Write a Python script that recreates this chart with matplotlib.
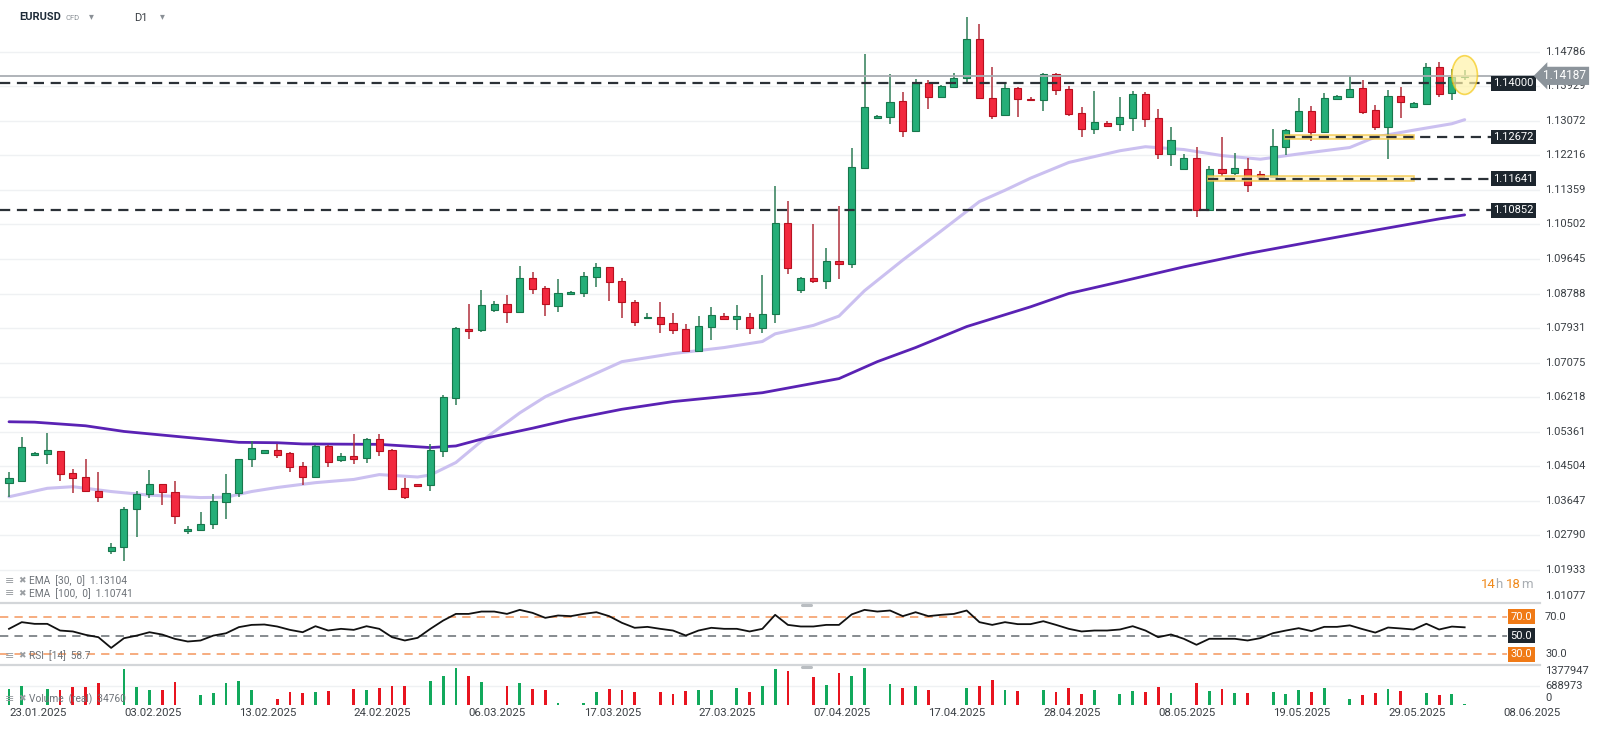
import numpy as np
import matplotlib
matplotlib.use('Agg')
import matplotlib.pyplot as plt
from matplotlib.patches import Rectangle, Ellipse
from matplotlib.lines import Line2D

plt.rcParams['font.family'] = ['Roboto', 'DejaVu Sans']

# ---- data (EURUSD D1, one bar per trading day incl. sundays) ----
opens = [1.04083, 1.04149, 1.04777, 1.04819, 1.04893, 1.04331, 1.04248, 1.03893, 1.02404, 1.02511,
         1.03438, 1.03818, 1.04066, 1.03860, 1.02900, 1.02925, 1.03066, 1.03628, 1.03835, 1.04678,
         1.04844, 1.04901, 1.04844, 1.04510, 1.04245, 1.05006, 1.04659, 1.04766, 1.04700, 1.05172,
         1.04907, 1.03973, 1.04055, 1.04039, 1.04882, 1.06205, 1.07909, 1.07884, 1.08380, 1.08529,
         1.08339, 1.09183, 1.08918, 1.08488, 1.08777, 1.08807, 1.09204, 1.09436, 1.09097, 1.08584,
         1.08171, 1.08212, 1.08047, 1.07908, 1.07370, 1.07964, 1.08237, 1.08146, 1.08212, 1.07947,
         1.08270, 1.10544, 1.08874, 1.09163, 1.09105, 1.09593, 1.09510, 1.11908, 1.13132, 1.13174,
         1.13571, 1.12826, 1.14001, 1.13670, 1.13918, 1.14125, 1.15092, 1.13628, 1.13215, 1.13877,
         1.13620, 1.13579, 1.14224, 1.13852, 1.13256, 1.12868, 1.13008, 1.12983, 1.13149, 1.13736,
         1.13149, 1.12248, 1.11876, 1.12140, 1.10858, 1.11876, 1.11768, 1.11876, 1.11743, 1.11686,
         1.12413, 1.12819, 1.13315, 1.12802, 1.13604, 1.13654, 1.13877, 1.13340, 1.12926, 1.13687,
         1.13406, 1.13480, 1.14415, 1.13753, 1.14170]
highs = [1.04372, 1.05224, 1.04860, 1.05340, 1.04893, 1.04438, 1.04678, 1.04356, 1.02594, 1.03488,
         1.03893, 1.04414, 1.04066, 1.04141, 1.03024, 1.03363, 1.03810, 1.04306, 1.04695, 1.05141,
         1.04910, 1.05059, 1.04860, 1.04609, 1.05031, 1.05031, 1.04824, 1.05296, 1.05197, 1.05296,
         1.04932, 1.04221, 1.04064, 1.05048, 1.06272, 1.07967, 1.08529, 1.08877, 1.08604, 1.08753,
         1.09480, 1.09331, 1.08976, 1.09141, 1.08852, 1.09312, 1.09535, 1.09436, 1.09163, 1.08625,
         1.08295, 1.08568, 1.08295, 1.08030, 1.08230, 1.08460, 1.08295, 1.08501, 1.08295, 1.09246,
         1.11462, 1.11082, 1.09204, 1.10503, 1.09907, 1.10966, 1.12405, 1.14720, 1.13215, 1.14224,
         1.13777, 1.14100, 1.14083, 1.13959, 1.14265, 1.15655, 1.15473, 1.14398, 1.13984, 1.13901,
         1.13670, 1.14265, 1.14249, 1.13934, 1.13405, 1.13810, 1.13066, 1.13653, 1.13810, 1.13777,
         1.13364, 1.12926, 1.12240, 1.12413, 1.11950, 1.12661, 1.12281, 1.12140, 1.11826, 1.12868,
         1.12868, 1.13629, 1.13447, 1.13770, 1.13712, 1.14191, 1.14084, 1.13464, 1.13836, 1.13902,
         1.13530, 1.14497, 1.14539, 1.14348, 1.14332]
lows = [1.03752, 1.04124, 1.04760, 1.04554, 1.04149, 1.03851, 1.03876, 1.03611, 1.02321, 1.02150,
        1.02743, 1.03711, 1.03545, 1.03074, 1.02817, 1.02908, 1.02941, 1.03190, 1.03752, 1.04480,
        1.04836, 1.04703, 1.04372, 1.04039, 1.04204, 1.04494, 1.04618, 1.04560, 1.04576, 1.04766,
        1.03915, 1.03683, 1.04005, 1.03898, 1.04742, 1.06024, 1.07661, 1.07843, 1.08339, 1.08066,
        1.08322, 1.08777, 1.08240, 1.08322, 1.08765, 1.08708, 1.08940, 1.08609, 1.08171, 1.07981,
        1.08162, 1.07823, 1.07798, 1.07345, 1.07345, 1.07633, 1.08130, 1.07881, 1.07798, 1.07815,
        1.08063, 1.09262, 1.08807, 1.09039, 1.08890, 1.09146, 1.09428, 1.11892, 1.13107, 1.12983,
        1.12661, 1.12820, 1.13356, 1.13628, 1.13901, 1.13984, 1.13604, 1.13107, 1.13198, 1.13174,
        1.13570, 1.13314, 1.13711, 1.13190, 1.12677, 1.12744, 1.12926, 1.12826, 1.12818, 1.12925,
        1.12124, 1.11950, 1.11876, 1.10677, 1.10858, 1.11710, 1.11727, 1.11313, 1.11669, 1.11669,
        1.12223, 1.12802, 1.12579, 1.12785, 1.13604, 1.13629, 1.13232, 1.12843, 1.12116, 1.13149,
        1.13398, 1.13464, 1.13654, 1.13587, 1.14084]
closes = [1.04207, 1.04976, 1.04844, 1.04901, 1.04314, 1.04207, 1.03893, 1.03735, 1.02511, 1.03446,
          1.03818, 1.04066, 1.03876, 1.03281, 1.02941, 1.03074, 1.03644, 1.03851, 1.04695, 1.04951,
          1.04901, 1.04794, 1.04496, 1.04245, 1.05006, 1.04601, 1.04766, 1.04684, 1.05172, 1.04882,
          1.03939, 1.03749, 1.04014, 1.04907, 1.06230, 1.07926, 1.07868, 1.08505, 1.08529, 1.08339,
          1.09183, 1.08893, 1.08529, 1.08794, 1.08835, 1.09229, 1.09436, 1.09080, 1.08568, 1.08088,
          1.08212, 1.08030, 1.07881, 1.07370, 1.07982, 1.08253, 1.08146, 1.08228, 1.07947, 1.08278,
          1.10544, 1.09411, 1.09180, 1.09105, 1.09601, 1.09510, 1.11933, 1.13422, 1.13190, 1.13546,
          1.12826, 1.14001, 1.13670, 1.13934, 1.14125, 1.15092, 1.13628, 1.13198, 1.13877, 1.13604,
          1.13579, 1.14224, 1.13835, 1.13240, 1.12868, 1.13050, 1.12950, 1.13174, 1.13736, 1.13107,
          1.12248, 1.12595, 1.12140, 1.10858, 1.11876, 1.11768, 1.11892, 1.11479, 1.11686, 1.12446,
          1.12843, 1.13315, 1.12802, 1.13646, 1.13687, 1.13852, 1.13282, 1.12910, 1.13687, 1.13546,
          1.13505, 1.14415, 1.13736, 1.14166, 1.14187]

volume = [560e3, 690e3, 0, 560e3, 535e3, 654e3, 631e3, 797e3, 0, 1273e3,
          631e3, 535e3, 535e3, 821e3, 0, 357e3, 416e3, 797e3, 857e3, 535e3,
          0, 202e3, 464e3, 440e3, 464e3, 500e3, 0, 560e3, 535e3, 607e3,
          690e3, 690e3, 0, 857e3, 1035e3, 1309e3, 1035e3, 833e3, 0, 690e3,
          797e3, 559e3, 524e3, 60e3, 0, 60e3, 464e3, 559e3, 524e3, 464e3,
          0, 464e3, 393e3, 500e3, 535e3, 535e3, 0, 595e3, 464e3, 666e3,
          1273e3, 1226e3, 0, 1012e3, 714e3, 1130e3, 1047e3, 1309e3, 0, 738e3,
          595e3, 666e3, 524e3, 0, 0, 595e3, 666e3, 892e3, 524e3, 488e3,
          0, 524e3, 464e3, 595e3, 393e3, 524e3, 0, 393e3, 488e3, 464e3,
          631e3, 428e3, 0, 797e3, 488e3, 559e3, 428e3, 428e3, 0, 464e3,
          393e3, 524e3, 464e3, 595e3, 0, 202e3, 357e3, 416e3, 559e3, 500e3,
          0, 416e3, 357e3, 393e3, 34760]

rsi = [57.1, 64.2, 62.4, 62.4, 55.3, 54.3, 50.7, 48.2, 36.8, 47.1,
       49.9, 53.5, 51.0, 46.4, 43.6, 44.7, 49.9, 52.4, 58.9, 61.3,
       61.7, 59.6, 56.0, 53.5, 59.9, 55.3, 57.1, 56.0, 59.9, 57.1,
       48.2, 44.7, 47.5, 57.1, 65.9, 73.0, 73.0, 75.5, 75.5, 73.0,
       77.3, 74.1, 68.8, 71.3, 70.6, 73.0, 74.8, 70.6, 63.5, 58.2,
       59.2, 57.1, 55.3, 50.0, 55.3, 58.2, 57.1, 57.1, 54.3, 57.1,
       72.0, 61.3, 59.6, 59.6, 61.3, 61.3, 72.5, 77.3, 75.5, 76.6,
       70.6, 74.8, 70.6, 72.0, 73.0, 76.6, 64.2, 61.3, 64.2, 62.1,
       62.1, 65.2, 61.3, 57.1, 54.3, 55.3, 55.3, 56.4, 59.9, 55.3,
       48.2, 51.1, 46.5, 40.1, 46.5, 46.5, 46.5, 44.7, 47.2, 52.5,
       55.3, 57.8, 54.7, 59.2, 59.2, 60.8, 56.8, 53.1, 58.5, 57.5,
       56.4, 62.5, 56.4, 59.5, 58.7]

# EMA lines at these bars
ema30_bars = [0, 3, 5, 8, 11, 15, 17, 19, 21, 24, 27, 29, 32, 33, 35, 37, 40, 42, 45, 48,
              52, 56, 59, 60, 63, 65, 67, 70, 73, 76, 78, 80, 83, 87, 89, 92, 95, 98, 101,
              105, 107, 110, 113, 114]
ema30_vals = [1.0375, 1.0396, 1.0400, 1.0388, 1.0379, 1.0373, 1.0374, 1.0388, 1.0398, 1.0410,
              1.0418, 1.0430, 1.0424, 1.0429, 1.0460, 1.0513, 1.0583, 1.0623, 1.0667, 1.0710,
              1.0730, 1.0745, 1.0760, 1.0779, 1.0800, 1.0823, 1.0886, 1.0962, 1.1034, 1.1107,
              1.1135, 1.1165, 1.1204, 1.1233, 1.1243, 1.1236, 1.1221, 1.1212, 1.1225, 1.1241,
              1.1267, 1.1284, 1.1300, 1.1310]
ema100_bars = [0, 2, 6, 9, 14, 18, 21, 23, 29, 33, 35, 37, 41, 44, 48, 52, 59, 65, 68, 71,
               75, 80, 83, 87, 92, 97, 103, 107, 112, 114]
ema100_vals = [1.0561, 1.0560, 1.0551, 1.0537, 1.0522, 1.0510, 1.0509, 1.0506, 1.0505, 1.0497,
               1.0501, 1.0518, 1.0545, 1.0567, 1.0592, 1.0611, 1.0633, 1.0668, 1.0710, 1.0745,
               1.0797, 1.0846, 1.0879, 1.0908, 1.0945, 1.0978, 1.1013, 1.1036, 1.1064, 1.1074]

price_ticks = [1.14786, 1.13929, 1.13072, 1.12216, 1.11359, 1.10502, 1.09645, 1.08788, 1.07931,
               1.07075, 1.06218, 1.05361, 1.04504, 1.03647, 1.02790, 1.01933]
bottom_tick = 1.01077
levels = [1.14000, 1.12672, 1.11641, 1.10852]
level_start = [None, 100, 94, None]     # bar where the line begins (None = left edge)
zone_end = 110
last_price = 1.14187
date_bars = [0, 9, 18, 27, 36, 45, 54, 63, 72, 81, 90, 99, 108, 117]
date_labels = ['23.01.2025', '03.02.2025', '13.02.2025', '24.02.2025', '06.03.2025', '17.03.2025',
               '27.03.2025', '07.04.2025', '17.04.2025', '28.04.2025', '08.05.2025', '19.05.2025',
               '29.05.2025', '08.06.2025']
vol_ticks = [1377947, 688973, 0]

# ---- layout (pixel based) ----
W, H = 1600, 729
PLOT_R = 1540
XL = (-0.705, 119.9)


def rect(x0, y0, x1, y1):
    return [x0 / W, 1 - y1 / H, (x1 - x0) / W, (y1 - y0) / H]


def fx(x):
    return x / W


def fy(y):
    return 1 - y / H


fig = plt.figure(figsize=(16, 7.29), dpi=100)
fig.patch.set_facecolor('white')
ax = fig.add_axes(rect(0, 0, PLOT_R, 603))
ax_rsi = fig.add_axes(rect(0, 603, PLOT_R, 665))
ax_vol = fig.add_axes(rect(0, 665, PLOT_R, 705))
for a in (ax, ax_rsi, ax_vol):
    a.set_xlim(*XL)
    for s in a.spines.values():
        s.set_visible(False)
    a.set_xticks([])
    a.set_yticks([])
    a.patch.set_alpha(0)


def to_axes_x(b):
    return (b - XL[0]) / (XL[1] - XL[0])


# ---- main price panel ----
ax.set_ylim(1.01116, 1.16068)
for t in price_ticks:
    ax.axhline(t, color='#eff1f3', lw=1.0, zorder=0)
    ax.text(1545 / PLOT_R, t, f'{t:.5f}', transform=ax.get_yaxis_transform(), va='center',
            ha='left', fontsize=8, color='#3a3f44', clip_on=False)
ax.text(1545 / PLOT_R, 0.004, f'{bottom_tick:.5f}', transform=ax.transAxes, va='bottom',
        ha='left', fontsize=8, color='#3a3f44', clip_on=False)

idx = np.arange(len(opens))
o = np.array(opens)
c = np.array(closes)
up = c >= o
body_lo = np.minimum(o, c)
body_h = np.maximum(np.abs(c - o), 0.00012)
fill = np.where(up, '#25ae78', '#f2293e')
edge = np.where(up, '#17774c', '#b8101f')
wick = np.where(up, '#2f7d57', '#b0303c')
ax.vlines(idx, lows, highs, colors=wick, lw=1.1, zorder=3)
ax.bar(idx, body_h, bottom=body_lo, width=0.56, color=fill, edgecolor=edge, linewidth=0.8, zorder=4)

ax.plot(ema30_bars, ema30_vals, color='#cbc0f0', lw=2.2, zorder=2, solid_capstyle='round')
ax.plot(ema100_bars, ema100_vals, color='#5a22b4', lw=2.0, zorder=2, solid_capstyle='round')

# current price line
ax.axhline(last_price, xmax=1537 / PLOT_R, color='#a9aeb3', lw=1.3, zorder=5)

# support / resistance levels
box_x = 1513.5 / PLOT_R
for lvl, st in zip(levels, level_start):
    x0 = 0 if st is None else to_axes_x(st - 0.1)
    ln = Line2D([x0, 1492 / PLOT_R], [lvl, lvl], transform=ax.get_yaxis_transform(),
                color='#2b3137', lw=1.6, zorder=6)
    ln.set_dashes((4.6, 3.0))
    ax.add_line(ln)
    if st is not None:
        ax.add_patch(Rectangle((st - 0.1, lvl - 0.0006), zone_end - st + 0.1, 0.0012,
                               facecolor='#fdf1c4', edgecolor='#f3c33a', lw=1.2, alpha=0.75, zorder=5))
    ax.text(box_x, lvl, f'{lvl:.5f}', transform=ax.get_yaxis_transform(), ha='center', va='center',
            fontsize=8, color='white', zorder=10, clip_on=False,
            bbox=dict(boxstyle='square,pad=0.22', fc='#1d262e', ec='none'))

ax.text(1565 / PLOT_R, last_price, f'{last_price:.5f}', transform=ax.get_yaxis_transform(),
        ha='center', va='center', fontsize=8.5, color='white', zorder=11, clip_on=False,
        bbox=dict(boxstyle='larrow,pad=0.22', fc='#8c949b', ec='none'))

# highlight of the current candle
ax.add_patch(Ellipse((idx[-1], closes[-1] + 0.0002), 2.0, 0.0096, facecolor='#fff3a8',
                     edgecolor='#f4c814', lw=1.2, alpha=0.7, zorder=7))

# ---- RSI panel ----
ax_rsi.set_ylim(18.6, 84.6)
ax_rsi.plot(idx, rsi, color='#111111', lw=1.3, zorder=4)
for lv, col, bcol in [(70, '#f6a675', '#f07a16'), (50, '#7d8287', '#1d262e'), (30, '#f6a675', '#f07a16')]:
    ln = Line2D([0, 1507 / PLOT_R], [lv, lv], transform=ax_rsi.get_yaxis_transform(), color=col, lw=1.3)
    ln.set_dashes((4.6, 3.4))
    ax_rsi.add_line(ln)
    ax_rsi.text(1521.5 / PLOT_R, lv, f'{lv:.1f}', transform=ax_rsi.get_yaxis_transform(), ha='center',
                va='center', fontsize=8, color='white', clip_on=False,
                bbox=dict(boxstyle='square,pad=0.22', fc=bcol, ec='none'))
for lv in (70, 30):
    ax_rsi.text(1545 / PLOT_R, lv, f'{lv:.1f}', transform=ax_rsi.get_yaxis_transform(), ha='left',
                va='center', fontsize=8, color='#3a3f44', clip_on=False)

# ---- volume panel ----
ax_vol.set_ylim(0, 1.428e6)
ax_vol.axhline(vol_ticks[1], color='#eff1f3', lw=1.0, zorder=0)
vcol = np.where(up, '#12a95c', '#e8141f')
ax_vol.bar(idx, volume, width=0.22, color=vcol, zorder=3)
for v, va in zip(vol_ticks, ['top', 'center', 'bottom']):
    yy = {'top': 0.985, 'center': vol_ticks[1] / 1.428e6, 'bottom': 0.06}[va]
    ax_vol.text(1545 / PLOT_R, yy, f'{v}', transform=ax_vol.transAxes, ha='left', va=va,
                fontsize=8, color='#3a3f44', clip_on=False)

for b, lab in zip(date_bars, date_labels):
    ax_vol.text(b, -0.08, lab, transform=ax_vol.get_xaxis_transform(), ha='left', va='top',
                fontsize=8.2, color='#3a3f44', clip_on=False)

# ---- panel separators and handles ----
for y in (603, 665):
    fig.add_artist(Line2D([0, fx(PLOT_R)], [fy(y), fy(y)], color='#d3d6d9', lw=1.6))
    fig.add_artist(Line2D([fx(802), fx(811)], [fy(y + 1.5), fy(y + 1.5)], color='#b9bdc1', lw=2.2,
                          solid_capstyle='round'))

# ---- header and legends ----
fig.text(fx(19), fy(17), 'EURUSD', fontsize=8, fontweight='bold', color='#1e2b38', va='center')
fig.text(fx(66), fy(18), 'CFD', fontsize=5.5, color='#8a9096', va='center')
fig.text(fx(89), fy(16), '▾', fontsize=7, color='#8a9096', va='center', family='DejaVu Sans')
fig.text(fx(134), fy(18), 'D1', fontsize=8, color='#3a3f44', va='center')
fig.text(fx(160), fy(16), '▾', fontsize=7, color='#8a9096', va='center', family='DejaVu Sans')

legends = [(580.7, 'EMA  [30,  0]  1.13104'), (593.3, 'EMA  [100,  0]  1.10741'),
           (656, 'RSI  [14]  58.7'), (699, 'Volume  (real)  34760')]
for y, txt in legends:
    fig.text(fx(5), fy(y), '≡', fontsize=8, color='#9a9ea2', va='center', family='DejaVu Sans')
    fig.text(fx(18), fy(y), '✖', fontsize=6.5, color='#9a9ea2', va='center', family='DejaVu Sans')
    fig.text(fx(29), fy(y), txt, fontsize=7.3, color='#6d7278', va='center')

# remaining time of the current bar
for x, s, col in [(1481, '14', '#f08a1c'), (1495.5, 'h', '#a8adb2'), (1506, '18', '#f08a1c'),
                  (1521, 'm', '#a8adb2')]:
    fig.text(fx(x), fy(585), s, fontsize=9.5, color=col, va='center')

fig.savefig('out.png', dpi=100, facecolor='white')
